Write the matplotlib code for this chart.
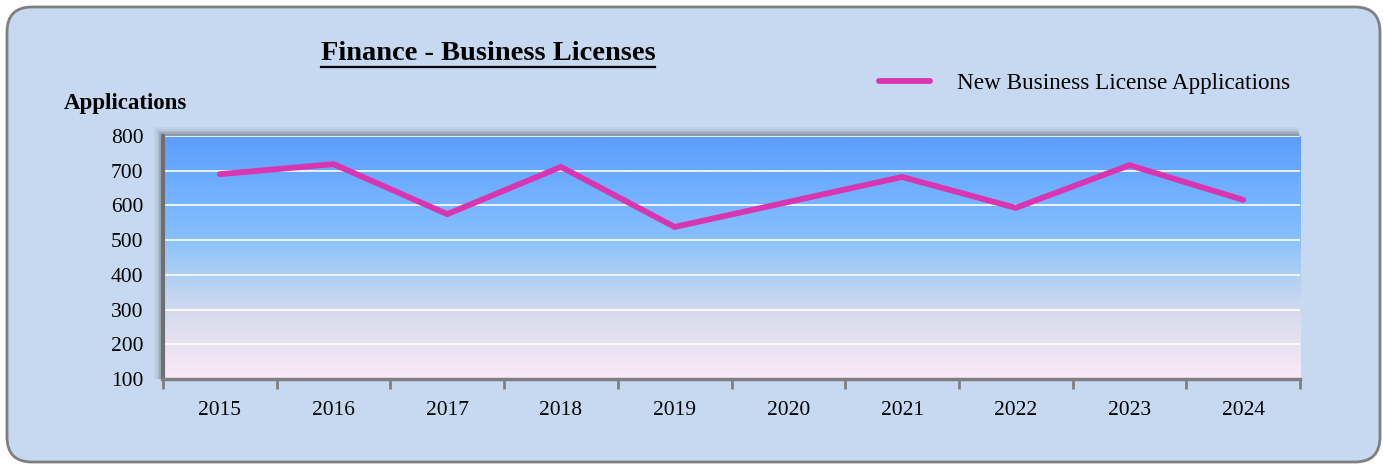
import numpy as np
import matplotlib.pyplot as plt
from matplotlib.patches import FancyBboxPatch, Rectangle
from matplotlib.colors import LinearSegmentedColormap

years = ["2015", "2016", "2017", "2018", "2019", "2020", "2021", "2022", "2023", "2024"]
applications = [690, 719, 575, 711, 538, 610, 682, 593, 716, 616]
y_ticks = [100, 200, 300, 400, 500, 600, 700, 800]

FONT = "Liberation Serif"
LINE_COLOR = "#D935B0"
plt.rcParams["font.family"] = FONT

W, H = 1383, 465
fig = plt.figure(figsize=(W / 100, H / 100), dpi=100)
fig.patch.set_facecolor("white")

# rounded panel behind everything
panel = FancyBboxPatch((0.07, 0.03), 13.73, 4.55,
                       boxstyle="round,pad=0,rounding_size=0.25",
                       transform=fig.dpi_scale_trans,
                       facecolor="#C6D9F1", edgecolor="#7F7F7F", linewidth=2, zorder=0)
fig.patches.append(panel)

ax_rect = [163 / W, 86 / H, 1137 / W, 243 / H]

# soft drop shadow around the plot area
for i, a in enumerate([0.05, 0.07, 0.09, 0.12, 0.16]):
    off = (5 - i) * 1.8
    fig.patches.append(Rectangle((ax_rect[0] - off / W, ax_rect[1]),
                                 ax_rect[2] + off / W * 0.8, ax_rect[3] + off / H,
                                 transform=fig.transFigure, facecolor="#404040",
                                 edgecolor="none", alpha=a, zorder=1))

ax = fig.add_axes(ax_rect)
ax.set_zorder(2)

x = np.arange(len(years))
ax.set_xlim(-0.5, len(years) - 0.5)
ax.set_ylim(100, 800)

# vertical gradient fill: blue on top fading to pale pink at the bottom
grad_cmap = LinearSegmentedColormap.from_list("bg", [
    (0.0, "#FBEAF8"),
    (0.25, "#D9DCEE"),
    (0.45, "#A9CDF3"),
    (0.6, "#84BEFD"),
    (0.8, "#6EAEFE"),
    (1.0, "#5C9DFE"),
])
grad = np.linspace(0, 1, 256).reshape(-1, 1)
ax.imshow(grad, cmap=grad_cmap, aspect="auto", origin="lower",
          extent=[-0.5, len(years) - 0.5, 100, 800], zorder=0)

ax.set_yticks(y_ticks)
for yv in y_ticks[1:]:
    ax.axhline(yv, color="white", linewidth=1.2, zorder=1)

ax.plot(x, applications, color=LINE_COLOR, linewidth=4.2, solid_capstyle="round",
        solid_joinstyle="miter", zorder=3, label="New Business License Applications")

ax.set_xticks(np.arange(-0.5, len(years), 1.0))
ax.set_xticklabels([])
ax.set_xticks(x, minor=True)
ax.set_xticklabels(years, minor=True)
ax.tick_params(axis="x", which="major", length=7, width=2, color="#7F7F7F", direction="out")
ax.tick_params(axis="x", which="minor", length=0, pad=16, labelsize=15.5)
ax.tick_params(axis="y", length=0, pad=14, labelsize=15.5)

for side in ["top", "right"]:
    ax.spines[side].set_visible(False)
ax.spines["left"].set_color("#6F6F6F")
ax.spines["left"].set_linewidth(3)
ax.spines["bottom"].set_color("#7F7F7F")
ax.spines["bottom"].set_linewidth(2.5)

title = fig.text(488 / W, 1 - 54 / H, "Finance - Business Licenses", ha="center", va="center",
                 fontsize=20.5, fontweight="bold")
fig.text(64 / W, 1 - 104 / H, "Applications", ha="left", va="center",
         fontsize=16.5, fontweight="bold")

# legend
fig.add_artist(plt.Line2D([879 / W, 930 / W], [1 - 81 / H, 1 - 81 / H],
                          transform=fig.transFigure, color=LINE_COLOR, linewidth=4.2,
                          solid_capstyle="round"))
fig.text(957 / W, 1 - 83 / H, "New Business License Applications", ha="left",
         va="center", fontsize=16.7)

# underline the title across its rendered width
fig.canvas.draw()
bb = title.get_window_extent()
fig.add_artist(plt.Line2D([bb.x0 / W, bb.x1 / W], [1 - 67 / H, 1 - 67 / H],
                          transform=fig.transFigure, color="black", linewidth=1.6))

fig.savefig("out.png", dpi=100)
